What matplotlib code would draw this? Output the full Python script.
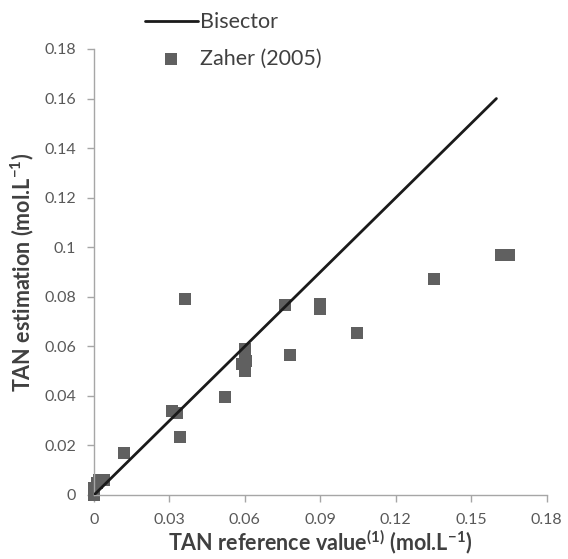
import matplotlib
matplotlib.use("Agg")
import matplotlib.pyplot as plt

# Data
bisector_x = [0.0, 0.16]
bisector_y = [0.0, 0.16]

zaher_x = [0.000, 0.000, 0.001, 0.002, 0.003, 0.004, 0.012, 0.031, 0.033, 0.034, 0.036,
           0.052, 0.060, 0.060, 0.0605, 0.060, 0.059, 0.076, 0.078, 0.090, 0.090,
           0.1045, 0.135, 0.162, 0.165]
zaher_y = [0.000, 0.003, 0.005, 0.006, 0.006, 0.006, 0.017, 0.034, 0.033, 0.0235, 0.079,
           0.0395, 0.059, 0.056, 0.054, 0.050, 0.053, 0.0765, 0.0565, 0.077, 0.075,
           0.0655, 0.087, 0.097, 0.097]

xticks = [0, 0.03, 0.06, 0.09, 0.12, 0.15, 0.18]
xticklabels = ["0", "0.03", "0.06", "0.09", "0.12", "0.15", "0.18"]
yticks = [0, 0.02, 0.04, 0.06, 0.08, 0.1, 0.12, 0.14, 0.16, 0.18]
yticklabels = ["0", "0.02", "0.04", "0.06", "0.08", "0.1", "0.12", "0.14", "0.16", "0.18"]

plt.rcParams['font.family'] = ['Lato', 'DejaVu Sans']
plt.rcParams['mathtext.fontset'] = 'custom'
plt.rcParams['mathtext.rm'] = 'Lato:bold'
plt.rcParams['mathtext.bf'] = 'Lato:bold'
plt.rcParams['mathtext.it'] = 'Lato:bold'
plt.rcParams['mathtext.default'] = 'bf'

fig = plt.figure(figsize=(5.68, 5.59), dpi=100)
ax = fig.add_axes([94/568, 1-495/559, (546.7-94)/568, (495-49)/559])

ax.scatter(zaher_x, zaher_y, marker='s', s=75, color='#606060', linewidths=0,
           label='Zaher (2005)', zorder=2, clip_on=False)
ax.plot(bisector_x, bisector_y, color='#1a1a1a', lw=2.0, label='Bisector', zorder=3,
        solid_capstyle='round')

ax.set_xlim(0, 0.18)
ax.set_ylim(0, 0.18)
ax.set_xticks(xticks)
ax.set_xticklabels(xticklabels)
ax.set_yticks(yticks)
ax.set_yticklabels(yticklabels)

for s in ['top', 'right']:
    ax.spines[s].set_visible(False)
for s in ['left', 'bottom']:
    ax.spines[s].set_color('#a6a6a6')
    ax.spines[s].set_linewidth(1.0)

ax.tick_params(axis='both', direction='out', length=5, width=1.0, color='#a6a6a6',
               labelcolor='#595959', labelsize=11.5)
ax.tick_params(axis='x', pad=8)
ax.tick_params(axis='y', pad=8)

ax.set_xlabel('TAN reference value$^{(1)}$ (mol.L$^{-1}$)', fontsize=15.5,
              fontweight='bold', color='#404040', labelpad=0)
ax.set_ylabel('TAN estimation (mol.L$^{-1}$)', fontsize=15.5,
              fontweight='bold', color='#404040', labelpad=6)

h, l = ax.get_legend_handles_labels()
leg = fig.legend(h[::-1], l[::-1], loc='upper left', bbox_to_anchor=(130/568, 1.005),
                 frameon=False, fontsize=15.5, handlelength=2.45, handletextpad=0.1,
                 labelspacing=0.75, borderpad=0.2)
for t in leg.get_texts():
    t.set_color('#404040')

fig.savefig('out.png', dpi=100)
